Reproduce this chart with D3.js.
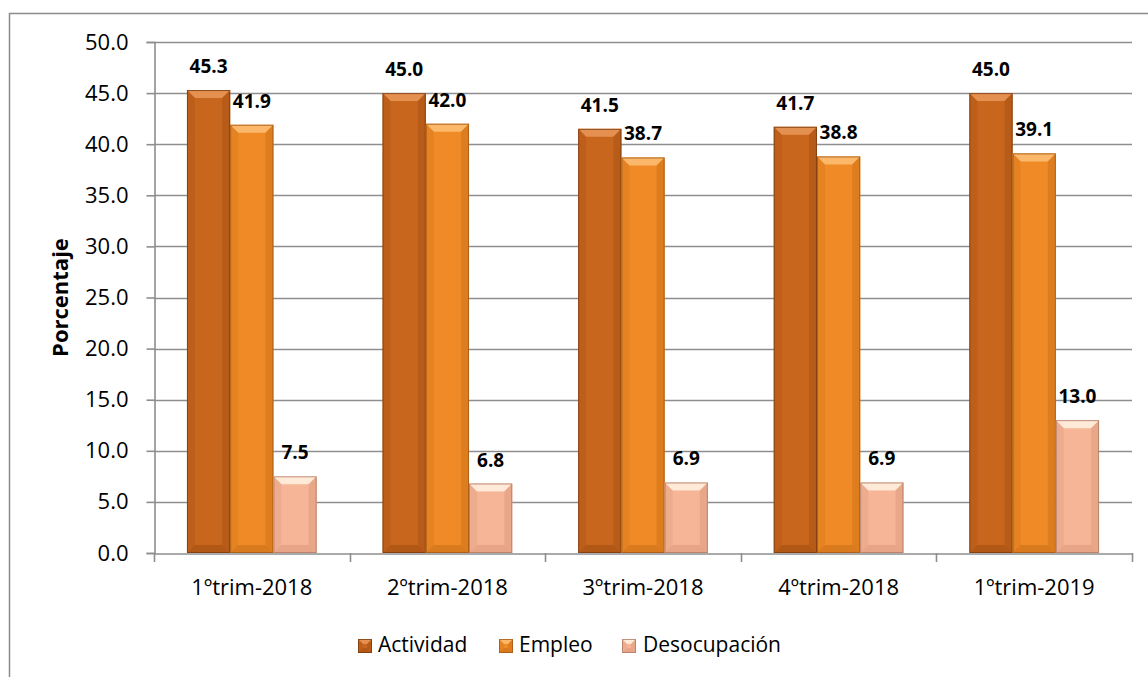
<!DOCTYPE html>
<html><head><meta charset="utf-8">
<script src="https://cdn.jsdelivr.net/npm/d3@7"></script>
<style>
html,body{margin:0;padding:0;background:#fff;}
text{font-family:"Open Sans",sans-serif;fill:#000;}
</style></head>
<body>
<svg id="chart" width="1148" height="677"></svg>
<script>
const categories = ["1ºtrim-2018","2ºtrim-2018","3ºtrim-2018","4ºtrim-2018","1ºtrim-2019"];
const seriesNames = ["Actividad","Empleo","Desocupación"];
const actividad = [45.3, 45.0, 41.5, 41.7, 45.0];
const empleo = [41.9, 42.0, 38.7, 38.8, 39.1];
const desocupacion = [7.5, 6.8, 6.9, 6.9, 13.0];
const yTicks = [0,5,10,15,20,25,30,35,40,45,50];
const yTitle = "Porcentaje";

const seriesValues = [actividad, empleo, desocupacion];
const colors = {
  "Actividad": {base:"#C9661E", light:"#E39050", dark:"#9A4A10", edge:"#7A3C10"},
  "Empleo": {base:"#F08A26", light:"#FBB86A", dark:"#C26A15", edge:"#A05A18"},
  "Desocupación": {base:"#F6B597", light:"#FFEAD8", dark:"#D89478", edge:"#B07A64"}
};

const svg = d3.select("#chart");
const m = {left:154, right:1132, top:42, bottom:553};

// outer border
svg.append("rect").attr("x",9.5).attr("y",13.5).attr("width",1148).attr("height",670)
  .attr("fill","none").attr("stroke","#8c8c8c").attr("stroke-width",1.5);

const y = d3.scaleLinear().domain([0,50]).range([m.bottom,m.top]);
const x0 = d3.scaleBand().domain(categories).range([m.left,m.right]).paddingInner(0).paddingOuter(0);
const bw = x0.bandwidth();
const x1 = d3.scaleBand().domain(seriesNames).range([bw*0.1685, bw*0.8315]).padding(0);

// gridlines
svg.append("g").selectAll("line").data(yTicks.filter(d=>d>0)).join("line")
  .attr("x1",m.left).attr("x2",m.right)
  .attr("y1",d=>Math.round(y(d))+0.5).attr("y2",d=>Math.round(y(d))+0.5)
  .attr("stroke","#8e8e8e").attr("stroke-width",1.6);

// y axis
const yAxis = d3.axisLeft(y).tickValues(yTicks).tickFormat(d3.format(".1f")).tickSize(8).tickPadding(18);
const gy = svg.append("g").attr("transform",`translate(${m.left+0.5},0)`).call(yAxis);
gy.select(".domain").attr("stroke","#8e8e8e").attr("stroke-width",1.6);
gy.selectAll(".tick line").attr("stroke","#8e8e8e").attr("stroke-width",1.6);
gy.selectAll(".tick text").attr("font-size",22).attr("font-family","Open Sans").attr("fill","#000");

// x axis
const xAxis = d3.axisBottom(x0).tickSize(0).tickPadding(26);
const gx = svg.append("g").attr("transform",`translate(0,${m.bottom+0.5})`).call(xAxis);
gx.select(".domain").attr("stroke","#8e8e8e").attr("stroke-width",1.6);
gx.selectAll(".tick text").attr("font-size",22).attr("font-family","Open Sans").attr("fill","#000");
// category boundary ticks
const bounds = categories.map(c=>x0(c)).concat([x0(categories[categories.length-1])+bw]);
svg.append("g").selectAll("line").data(bounds).join("line")
  .attr("x1",d=>Math.round(d)+0.5).attr("x2",d=>Math.round(d)+0.5)
  .attr("y1",m.bottom).attr("y2",m.bottom+9)
  .attr("stroke","#8e8e8e").attr("stroke-width",1.6);

// bars with bevel
const data = [];
categories.forEach((c,i)=>{
  seriesNames.forEach((s,j)=>{ data.push({cat:c, series:s, value:seriesValues[j][i]}); });
});

function bevelBar(g, x, yTop, w, h, col, bsize){
  const b = Math.min(bsize, h/2, w/2);
  const gx2 = x+w, gy2 = yTop+h;
  g.append("rect").attr("x",x).attr("y",yTop).attr("width",w).attr("height",h).attr("fill",col.base);
  // top bevel
  g.append("polygon").attr("points",`${x},${yTop} ${gx2},${yTop} ${gx2-b},${yTop+b} ${x+b},${yTop+b}`).attr("fill",col.light);
  // left bevel
  g.append("polygon").attr("points",`${x},${yTop} ${x+b},${yTop+b} ${x+b},${gy2-b} ${x},${gy2}`).attr("fill",col.dark).attr("opacity",0.25);
  // right bevel
  g.append("polygon").attr("points",`${gx2},${yTop} ${gx2},${gy2} ${gx2-b},${gy2-b} ${gx2-b},${yTop+b}`).attr("fill",col.dark).attr("opacity",0.4);
  // bottom bevel
  g.append("polygon").attr("points",`${x},${gy2} ${gx2},${gy2} ${gx2-b},${gy2-b} ${x+b},${gy2-b}`).attr("fill",col.dark).attr("opacity",0.5);
  g.append("rect").attr("x",x+0.5).attr("y",yTop+0.5).attr("width",w-1).attr("height",h-1)
    .attr("fill","none").attr("stroke",col.edge).attr("stroke-width",1).attr("opacity",0.8);
}

const barsG = svg.append("g");
data.forEach(d=>{
  const bx = x0(d.cat)+x1(d.series);
  const top = y(d.value);
  bevelBar(barsG.append("g"), bx, top, x1.bandwidth(), y(0)-top, colors[d.series], 8);
});

// data labels
svg.append("g").selectAll("text").data(data).join("text")
  .attr("x",d=>x0(d.cat)+x1(d.series)+x1.bandwidth()/2)
  .attr("y",d=>y(d.value)-17)
  .attr("text-anchor","middle").attr("font-size",19).attr("font-weight","bold")
  .text(d=>d3.format(".1f")(d.value));

// y title
svg.append("text").attr("transform",`translate(68,${(m.top+m.bottom)/2}) rotate(-90)`)
  .attr("text-anchor","middle").attr("font-size",22).attr("font-weight","bold").text(yTitle);

// legend
const legendPos = [{mx:358, tx:378},{mx:499, tx:519},{mx:622, tx:643}];
const lg = svg.append("g");
seriesNames.forEach((s,i)=>{
  const p = legendPos[i];
  bevelBar(lg.append("g"), p.mx, 639, 14, 14, colors[s], 5);
  lg.append("text").attr("x",p.tx).attr("y",652).attr("font-size",21).text(s);
});
</script>
</body></html>
